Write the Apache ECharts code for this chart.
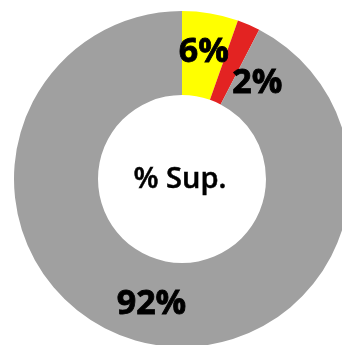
<!DOCTYPE html>
<html>
<head>
<meta charset="utf-8">
<script src="https://cdn.jsdelivr.net/npm/echarts@6/dist/echarts.min.js"></script>
<style>
html,body{margin:0;padding:0;background:#fff;}
#chart{width:342px;height:345px;}
</style>
</head>
<body>
<div id="chart"></div>
<script>
var categories = ['Yellow', 'Red', 'Gray'];
var values = [5.4, 2.2, 92.4];
var labelTexts = ['6%', '2%', '92%'];
var colors = ['#FFFF00', '#E32322', '#A0A0A0'];
var centerText = '% Sup.';

var chart = echarts.init(document.getElementById('chart'));
var data = categories.map(function (c, i) {
  var item = {
    name: c,
    value: values[i],
    itemStyle: { color: colors[i] },
    label: { formatter: labelTexts[i] }
  };
  if (i === 1) item.label.offset = [24, 23];
  return item;
});
chart.setOption({
  animation: false,
  backgroundColor: '#ffffff',
  graphic: [{
    type: 'text',
    x: 180, y: 180,
    style: {
      text: centerText,
      fill: '#000',
      font: '600 29px "Open Sans"',
      textAlign: 'center',
      textVerticalAlign: 'middle',
      stroke: '#000',
      lineWidth: 0.5
    }
  }],
  series: [{
    type: 'pie',
    center: [182, 179],
    radius: [84, 168],
    startAngle: 90,
    clockwise: true,
    silent: true,
    avoidLabelOverlap: false,
    label: {
      show: true,
      position: 'inside',
      color: '#000',
      fontFamily: 'Open Sans',
      fontWeight: 'bold',
      fontSize: 34,
      textBorderColor: '#000',
      textBorderWidth: 0.8
    },
    labelLine: { show: false },
    itemStyle: { borderWidth: 0 },
    data: data
  }]
});
</script>
</body>
</html>
